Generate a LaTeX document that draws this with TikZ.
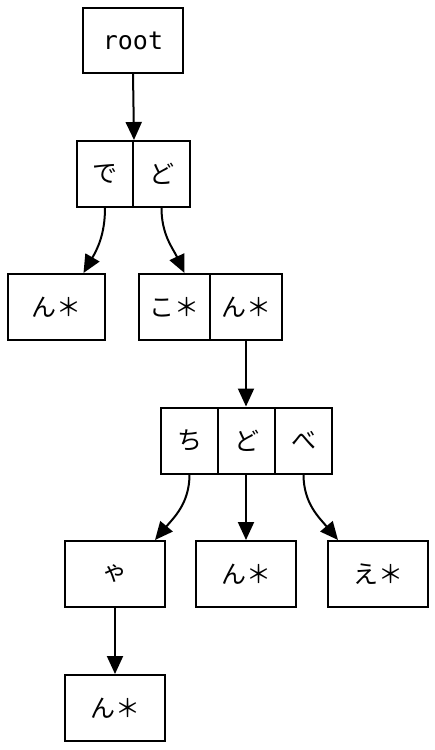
\documentclass[tikz,border=0pt]{standalone}
\usepackage{fontspec}
\setmainfont{Noto Sans CJK JP}
\newfontfamily\monofont{DejaVu Sans Mono}
\usetikzlibrary{arrows.meta}
\tikzset{
  cell/.style={draw,line width=2pt,inner sep=0pt,minimum height=66pt,font=\fontsize{25}{27}\selectfont},
  link/.style={line width=2pt,-{Triangle[length=18pt,width=16pt]}},
}
\begin{document}
\begin{tikzpicture}[x=1pt,y=1pt]
\useasboundingbox (0,0) rectangle (435,-750);
\node[cell,minimum width=100pt,minimum height=65pt,font=\monofont\fontsize{25}{27}\selectfont] (root) at (133,-40.5) {root};
\node[cell,minimum width=56pt] (de) at (105,-174) {で};
\node[cell,minimum width=57pt] (do) at (161.5,-174) {ど};
\node[cell,minimum width=97pt] (n1) at (56.5,-307) {ん＊};
\node[cell,minimum width=71pt] (ko) at (174.5,-307) {こ＊};
\node[cell,minimum width=72pt] (n2) at (246,-307) {ん＊};
\node[cell,minimum width=57pt] (chi) at (189.5,-440.5) {ち};
\node[cell,minimum width=57pt] (do2) at (246.5,-440.5) {ど};
\node[cell,minimum width=57pt] (be) at (303.5,-440.5) {べ};
\node[cell,minimum width=100pt] (ya) at (115,-574) {ゃ};
\node[cell,minimum width=100pt] (n3) at (246,-574) {ん＊};
\node[cell,minimum width=100pt] (e) at (378,-574) {え＊};
\node[cell,minimum width=100pt] (n4) at (115,-708) {ん＊};
\draw[link] (root.south) -- (de.north east);
\draw[link] (de.south) to[out=-90,in=60] ([xshift=27pt]n1.north);
\draw[link] (do.south) to[out=-90,in=115] ([xshift=10pt]ko.north);
\draw[link] (n2.south) -- (n2.south |- do2.north);
\draw[link] (chi.south) to[out=-90,in=50] ([xshift=40pt]ya.north);
\draw[link] (n3.north |- do2.south) -- (n3.north);
\draw[link] (be.south) to[out=-90,in=130] ([xshift=-40pt]e.north);
\draw[link] (ya.south) -- (n4.north);
\end{tikzpicture}
\end{document}
